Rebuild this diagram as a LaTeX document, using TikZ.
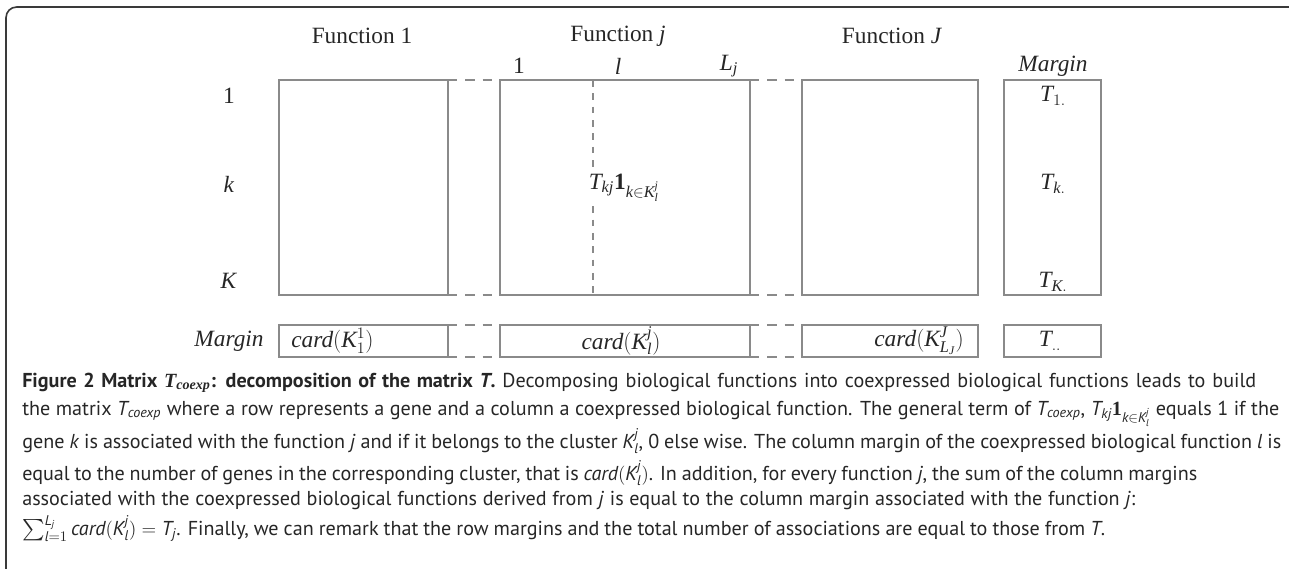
\documentclass[tikz,border=0pt]{standalone}
\usepackage{amstext}
\usepackage{graphicx}
\usepackage{fontspec}
\setmainfont{PT Sans}
\newfontfamily\diag{Liberation Serif}
\newcommand\one{\textbf{\diag 1}}
\newcommand\ti[1]{\textit{#1}}
\newcommand\capline[2]{\makebox[#1][s]{#2}}
\newcommand\bigsum{\mathop{\vcenter{\hbox{\scalebox{1.6}{$\sum$}}}}\nolimits}
\definecolor{boxgray}{HTML}{8A8A8A}
\definecolor{txt}{HTML}{262626}
\definecolor{framec}{HTML}{3A3A3A}
\begin{document}
\begin{tikzpicture}[x=0.75pt,y=-0.75pt,
  box/.style={draw=boxgray, line width=1.1pt, inner sep=0pt, outer sep=0pt},
  gapdash/.style={draw=boxgray, line width=1.1pt, dash pattern=on 7pt off 6pt},
  innerdash/.style={draw=boxgray, line width=1pt, dash pattern=on 5pt off 5pt},
  lab/.style={font=\diag\fontsize{17.5}{20}\selectfont, text=txt, inner sep=0pt},
  captxt/.style={font=\fontsize{15.1}{18}\selectfont, text=txt, anchor=base west, inner sep=0pt}]
\useasboundingbox (0,0) rectangle (1289,568);
% frame
\draw[framec, line width=1.2pt, rounded corners=8pt] (6,580) |- (1292,7);
% main boxes
\node[box, minimum width=169*0.75pt, minimum height=215*0.75pt] (b1) at (363.5,187.5) {};
\node[box, minimum width=250*0.75pt, minimum height=215*0.75pt] (bj) at (625,187.5) {};
\node[box, minimum width=176*0.75pt, minimum height=215*0.75pt] (bJ) at (890,187.5) {};
\node[box, minimum width=97*0.75pt, minimum height=215*0.75pt] (bm) at (1052.5,187.5) {};
% margin row boxes
\node[box, minimum width=169*0.75pt, minimum height=32*0.75pt] (m1) at (363.5,341) {};
\node[box, minimum width=250*0.75pt, minimum height=32*0.75pt] (mj) at (625,341) {};
\node[box, minimum width=176*0.75pt, minimum height=32*0.75pt] (mJ) at (890,341) {};
\node[box, minimum width=97*0.75pt, minimum height=32*0.75pt] (mm) at (1052.5,341) {};
% dashed gaps
\draw[gapdash] (b1.north east) -- (bj.north west);
\draw[gapdash] (b1.south east) -- (bj.south west);
\draw[gapdash] (bj.north east) -- (bJ.north west);
\draw[gapdash] (bj.south east) -- (bJ.south west);
\draw[gapdash] (m1.north east) -- (mj.north west);
\draw[gapdash] (m1.south east) -- (mj.south west);
\draw[gapdash] (mj.north east) -- (mJ.north west);
\draw[gapdash] (mj.south east) -- (mJ.south west);
% headings
\node[lab] (f1) at (362,36) {Function 1};
\node[lab] (fj) at (618,36) {Function \ti{j}};
\node[lab] (fJ) at (892,36) {Function \ti{J}};
\node[lab] (c1) at (519,66) {1};
\node[lab] (cl) at (618,66) {\ti{l}};
\node[lab] (cL) at (729,66) {$\ti{L}_{\ti{j}}$};
\node[lab] (cm) at (1053,66) {\ti{Margin}};
% row labels
\node[lab] (r1) at (229,96) {1};
\node[lab] (rk) at (229,184) {\ti{k}};
\node[lab] (rK) at (229,281) {\ti{K}};
\node[lab] (rm) at (229,341) {\ti{Margin}};
% margin column entries
\node[lab] (t1) at (1053,96) {$\ti{T}_{1.}$};
\node[lab] (tk) at (1053,184) {$\ti{T}_{\ti{k}.}$};
\node[lab] (tK) at (1053,282) {$\ti{T}_{\ti{K}.}$};
% inner term and dashed column
\node[lab, fill=white, inner ysep=3pt] (tkj) at (624,188) {$\ti{T}_{\ti{kj}}\one_{\ti{k}\in \ti{K}^{\ti{j}}_{\ti{l}}}$};
\coordinate (lt) at (593,80);
\coordinate (lb) at (593,295);
\draw[innerdash] (lt) -- (lt |- tkj.north);
\draw[innerdash] (lt |- tkj.south) -- (lb);
% margin row entries
\node[lab, anchor=west] (k11) at (291,341) {$\ti{card}(\ti{K}^{1}_{1})$};
\node[lab] (klj) at (621,341) {$\ti{card}(\ti{K}^{\ti{j}}_{\ti{l}})$};
\node[lab, anchor=east] (kLJ) at (964,341) {$\ti{card}(\ti{K}^{\ti{J}}_{\ti{L}_{\ti{J}}})$};
\node[lab] (tt) at (1050,341) {$\ti{T}_{..}$};
% caption
\node[captxt] (cap1) at (22,387) {\capline{925.5pt}{\textbf{Figure 2 Matrix $\textit{\diag\bfseries T}_{\textit{\diag\bfseries coexp}}$: decomposition of the matrix \textit{T}.} Decomposing biological functions into coexpressed biological functions leads to build}};
\node[captxt] (cap2) at (22,415) {\capline{942.75pt}{the matrix $\ti{T}_{\ti{coexp}}$ where a row represents a gene and a column a coexpressed biological function. The general term of $\ti{T}_{\ti{coexp}}$, $\ti{T}_{\ti{kj}}\one_{\ti{k}\in \ti{K}^{\ti{j}}_{\ti{l}}}$ equals 1 if the}};
\node[captxt] (cap3) at (22,448) {\capline{944.25pt}{gene \ti{k} is associated with the function \ti{j} and if it belongs to the cluster $\ti{K}^{\ti{j}}_{\ti{l}}$, 0 else wise. The column margin of the coexpressed biological function \ti{l} is}};
\node[captxt] (cap4) at (22,480) {\capline{881.25pt}{equal to the number of genes in the corresponding cluster, that is $\ti{card}(\ti{K}^{\ti{j}}_{\ti{l}})$. In addition, for every function \ti{j}, the sum of the column margins}};
\node[captxt] (cap5) at (22,505) {\capline{834.75pt}{associated with the coexpressed biological functions derived from \ti{j} is equal to the column margin associated with the function \ti{j}:}};
\node[captxt] (cap6) at (22,535) {\capline{812.25pt}{$\bigsum_{\ti{l}=1}^{\ti{L}_{\ti{j}}}\ti{card}(\ti{K}^{\ti{j}}_{\ti{l}}) = \ti{T}_{\ti{j}}$. Finally, we can remark that the row margins and the total number of associations are equal to those from \ti{T}.}};
\end{tikzpicture}
\end{document}
